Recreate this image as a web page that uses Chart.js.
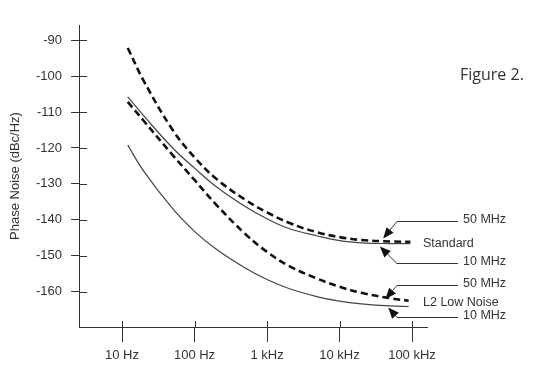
<!DOCTYPE html>
<html>
<head>
<meta charset="utf-8">
<script src="https://cdn.jsdelivr.net/npm/chart.js@4.4.1/dist/chart.umd.min.js"></script>
<style>
  html, body { margin: 0; padding: 0; background: #fff; }
  #wrap { width: 560px; height: 388px; position: relative; }
</style>
</head>
<body>
<div id="wrap"><canvas id="phaseChart"></canvas></div>
<script>
// offset frequencies (Hz) where the curves were read
const freqStandard = [12, 20, 50, 100, 200, 500, 1000, 2000, 5000, 10000, 20000, 50000, 95000];
const freqLowNoise = [12, 20, 50, 100, 200, 500, 1000, 2000, 5000, 10000, 20000, 50000, 90000];

// phase noise, dBc/Hz
const standard50 = [-92.2, -101.4, -115.0, -122.6, -128.6, -134.4, -137.9, -140.8, -143.5, -144.8, -145.6, -146.0, -146.1];
const standard10 = [-105.8, -111.1, -120.0, -125.6, -130.8, -136.3, -139.7, -142.4, -144.5, -145.8, -146.4, -146.6, -146.6];
const lowNoise50 = [-107.2, -112.5, -122.0, -128.9, -135.8, -143.9, -148.9, -152.8, -156.4, -158.6, -160.3, -161.8, -162.5];
const lowNoise10 = [-119.2, -126.5, -136.9, -143.2, -148.2, -153.4, -156.6, -159.1, -161.4, -162.6, -163.35, -163.95, -164.1];

const xTicks = [10, 100, 1000, 10000, 100000];
const xTickLabels = ['10 Hz', '100 Hz', '1 kHz', '10 kHz', '100 kHz'];
const yTicks = [-160, -150, -140, -130, -120, -110, -100, -90];

const font = "'Liberation Sans', Arial, sans-serif";
const ink = '#333';

function buildSeries(freqs, values) {
    return freqs.map((f, i) => ({ x: f, y: values[i] }));
}

// arrows pointing at each curve (data coords: [Hz, dBc/Hz])
const callouts = [
    { text: '50 MHz', tip: [40000, -145.2], knee: [62000, -140.3] },
    { text: '10 MHz', tip: [36000, -147.4], knee: [62000, -151.9] },
    { text: '50 MHz', tip: [43000, -162.0], knee: [62000, -158.1] },
    { text: '10 MHz', tip: [47000, -164.4], knee: [62000, -167.0] },
];
const groupLabels = [
    { text: 'Standard', value: -146.6 },
    { text: 'L2 Low Noise', value: -162.9 },
];

const overlay = {
    id: 'overlay',
    afterDraw(chart) {
        const { ctx, chartArea, scales: { x, y } } = chart;
        ctx.save();
        ctx.strokeStyle = ink;
        ctx.fillStyle = ink;
        ctx.lineWidth = 1;

        // inner half of the crossing tick marks
        ctx.beginPath();
        yTicks.forEach(v => {
            const py = Math.round(y.getPixelForValue(v)) + 0.5;
            ctx.moveTo(chartArea.left, py);
            ctx.lineTo(chartArea.left + 8, py);
        });
        xTicks.forEach(v => {
            const px = Math.round(x.getPixelForValue(v)) + 0.5;
            ctx.moveTo(px, chartArea.bottom - 6);
            ctx.lineTo(px, chartArea.bottom);
        });
        ctx.stroke();

        // callouts with arrowheads
        const lineEnd = chartArea.right + 31;
        ctx.font = '12.5px ' + font;
        ctx.textBaseline = 'middle';
        callouts.forEach(c => {
            const tx = x.getPixelForValue(c.tip[0]);
            const ty = y.getPixelForValue(c.tip[1]);
            const kx = x.getPixelForValue(c.knee[0]);
            const ky = Math.round(y.getPixelForValue(c.knee[1])) + 0.5;
            const ang = Math.atan2(ty - ky, tx - kx);
            const len = 11, half = 4.5;
            const bx = tx - Math.cos(ang) * len;
            const by = ty - Math.sin(ang) * len;

            ctx.beginPath();
            ctx.moveTo(lineEnd, ky);
            ctx.lineTo(kx, ky);
            ctx.lineTo(bx, by);
            ctx.stroke();

            ctx.beginPath();
            ctx.moveTo(tx, ty);
            ctx.lineTo(bx + Math.sin(ang) * half, by - Math.cos(ang) * half);
            ctx.lineTo(bx - Math.sin(ang) * half, by + Math.cos(ang) * half);
            ctx.closePath();
            ctx.fillStyle = '#111';
            ctx.fill();

            ctx.fillStyle = ink;
            ctx.fillText(c.text, lineEnd + 5, ky - 2);
        });

        groupLabels.forEach(g => {
            ctx.fillText(g.text, chartArea.right - 4, y.getPixelForValue(g.value));
        });

        ctx.font = "16px 'Open Sans', sans-serif";
        ctx.fillText('Figure 2.', chartArea.right + 33, chartArea.top + 50);
        ctx.restore();
    }
};

const ctx = document.getElementById('phaseChart').getContext('2d');
const phaseChart = new Chart(ctx, {
    type: 'line',
    data: {
        datasets: [
            { label: 'Standard 50 MHz', data: buildSeries(freqStandard, standard50), borderColor: '#111', borderWidth: 2.6, borderDash: [7, 4] },
            { label: 'Standard 10 MHz', data: buildSeries(freqStandard, standard10), borderColor: '#444', borderWidth: 1.2 },
            { label: 'L2 Low Noise 50 MHz', data: buildSeries(freqLowNoise, lowNoise50), borderColor: '#111', borderWidth: 2.6, borderDash: [7, 4] },
            { label: 'L2 Low Noise 10 MHz', data: buildSeries(freqLowNoise, lowNoise10), borderColor: '#444', borderWidth: 1.2 },
        ],
    },
    options: {
        responsive: true,
        maintainAspectRatio: false,
        animation: false,
        layout: { padding: { top: 25, right: 133, bottom: 0, left: 0 } },
        elements: {
            point: { radius: 0 },
            line: { tension: 0.4, fill: false },
        },
        plugins: {
            legend: { display: false },
            tooltip: { enabled: false },
        },
        scales: {
            x: {
                type: 'logarithmic',
                min: 2.55,
                max: 161000,
                bounds: 'data',
                afterBuildTicks: s => { s.ticks = xTicks.map(v => ({ value: v })); },
                afterFit: s => { s.height = 61; },
                grid: { drawOnChartArea: false, drawTicks: true, tickLength: 15, color: ink },
                border: { display: true, color: ink, width: 1 },
                ticks: {
                    autoSkip: false,
                    maxRotation: 0,
                    padding: 6,
                    color: ink,
                    font: { family: font, size: 13 },
                    callback: (v, i) => xTickLabels[i],
                },
            },
            y: {
                type: 'linear',
                min: -169.8,
                max: -85.8,
                bounds: 'data',
                afterBuildTicks: s => { s.ticks = yTicks.map(v => ({ value: v })); },
                afterFit: s => { s.width = 79; },
                grid: { drawOnChartArea: false, drawTicks: true, tickLength: 8, color: ink },
                border: { display: true, color: ink, width: 1 },
                title: {
                    display: true,
                    text: 'Phase Noise (dBc/Hz)',
                    color: ink,
                    font: { family: font, size: 13 },
                    padding: { top: 8, bottom: 0 },
                },
                ticks: {
                    padding: 9,
                    color: ink,
                    font: { family: font, size: 13 },
                    callback: v => String(v),
                },
            },
        },
    },
    plugins: [overlay],
});
</script>
</body>
</html>
